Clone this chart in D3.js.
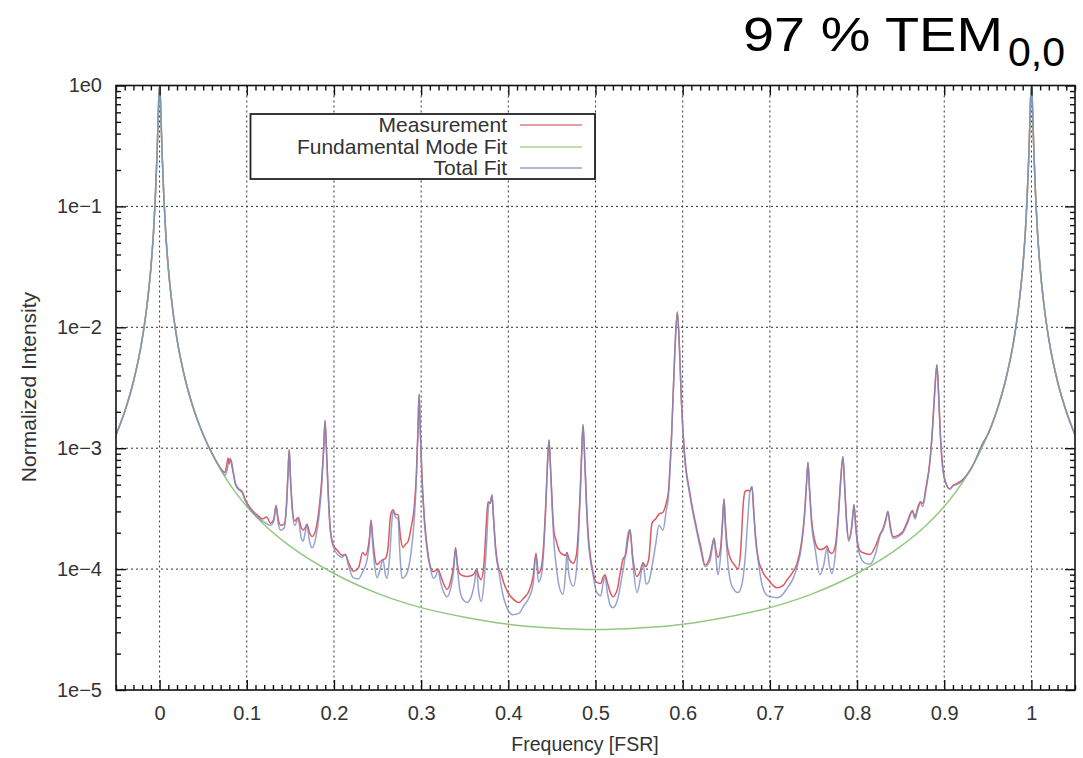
<!DOCTYPE html>
<html>
<head>
<meta charset="utf-8">
<script src="https://cdn.jsdelivr.net/npm/d3@7"></script>
<style>
  body { margin: 0; background: #fff; }
  text { font-family: "Liberation Sans", Arial, sans-serif; }
  .grid line { stroke: #333; stroke-width: 1; stroke-dasharray: 2,3; }
  .tick text { fill: #333; font-size: 20px; }
  .tick line { stroke: #111; stroke-width: 1.4; }
</style>
</head>
<body>
<svg id="chart" width="1083" height="758"></svg>
<script>
// Axis ticks
const xMajor = [0, 0.1, 0.2, 0.3, 0.4, 0.5, 0.6, 0.7, 0.8, 0.9, 1];
const xTickLabels = ['0', '0.1', '0.2', '0.3', '0.4', '0.5', '0.6', '0.7', '0.8', '0.9', '1'];
const yDecades = [1e-5, 1e-4, 1e-3, 1e-2, 1e-1, 1e0];
const yTickLabels = ['1e\u22125', '1e\u22124', '1e\u22123', '1e\u22122', '1e\u22121', '1e0'];

const seriesNames = ['Measurement', 'Fundamental Mode Fit', 'Total Fit'];

// [frequency (FSR), normalized intensity]
const peakLeft = [
  [-0.05, 1.29e-3], [-0.04, 2.01e-3], [-0.03, 3.56e-3], [-0.02, 7.96e-3], [-0.015, 1.41e-2],
  [-0.01, 3.1e-2], [-0.007, 6.1e-2], [-0.005, 0.114], [-0.003, 0.26], [-0.002, 0.44],
  [-0.001, 0.76], [0, 1], [0.001, 0.76], [0.002, 0.44], [0.003, 0.26], [0.005, 0.114],
  [0.007, 6.1e-2], [0.01, 3.1e-2], [0.015, 1.41e-2], [0.02, 7.96e-3], [0.03, 3.56e-3],
  [0.04, 2.01e-3], [0.05, 1.3e-3], [0.06, 9.1e-4], [0.07, 6.8e-4]
];

const peakRight = [
  [0.932, 7.0e-4], [0.9375, 8.5e-4], [0.943, 1.05e-3], [0.95, 1.3e-3], [0.96, 2.01e-3],
  [0.97, 3.56e-3], [0.98, 7.96e-3], [0.985, 1.41e-2], [0.99, 3.1e-2], [0.993, 6.1e-2],
  [0.995, 0.114], [0.997, 0.26], [0.998, 0.44], [0.999, 0.76], [1, 1], [1.001, 0.76],
  [1.002, 0.44], [1.003, 0.26], [1.005, 0.114], [1.007, 6.1e-2], [1.01, 3.1e-2],
  [1.015, 1.41e-2], [1.02, 7.96e-3], [1.03, 3.56e-3], [1.04, 2.01e-3], [1.05, 1.29e-3]
];

const measurementMid = [
  [0.075, 6.3e-4], [0.0775, 7.6e-4], [0.0786, 8.3e-4], [0.0798, 7.4e-4], [0.081, 8.2e-4],
  [0.0835, 6.8e-4], [0.087, 5.1e-4], [0.091, 4.6e-4], [0.0946, 4.4e-4], [0.098, 3.8e-4],
  [0.104, 3.2e-4], [0.112, 2.8e-4], [0.118, 2.6e-4], [0.123, 2.7e-4], [0.127, 2.4e-4],
  [0.131, 2.6e-4], [0.1336, 3.35e-4], [0.136, 2.6e-4], [0.139, 2.3e-4], [0.143, 2.35e-4],
  [0.1455, 3.4e-4], [0.1472, 6.0e-4], [0.1487, 9.7e-4], [0.150, 6.0e-4], [0.152, 3.4e-4],
  [0.155, 2.5e-4], [0.159, 2.67e-4], [0.1625, 2.2e-4], [0.1646, 2.1e-4], [0.167, 2.2e-4],
  [0.169, 2.35e-4], [0.172, 2.0e-4], [0.175, 1.86e-4], [0.179, 2.1e-4], [0.183, 3.2e-4],
  [0.186, 5.5e-4], [0.1882, 1.0e-3], [0.1898, 1.7e-3], [0.1915, 9.5e-4], [0.1935, 4.2e-4],
  [0.1955, 2.3e-4], [0.199, 1.6e-4], [0.205, 1.4e-4], [0.209, 1.3e-4], [0.213, 1.32e-4],
  [0.217, 1.12e-4], [0.222, 9.6e-5], [0.228, 1.02e-4], [0.233, 1.37e-4], [0.236, 1.3e-4],
  [0.2405, 1.75e-4], [0.2425, 2.55e-4], [0.2445, 1.8e-4], [0.2465, 1.3e-4], [0.2494, 1.09e-4],
  [0.253, 1.15e-4], [0.2563, 1.2e-4], [0.259, 1.22e-4], [0.262, 1.5e-4], [0.265, 2.8e-4],
  [0.2678, 3.1e-4], [0.2705, 2.85e-4], [0.2735, 2.82e-4], [0.2765, 1.8e-4], [0.279, 1.51e-4],
  [0.282, 1.6e-4], [0.285, 1.69e-4], [0.289, 2.3e-4], [0.292, 3.2e-4], [0.2945, 6.0e-4],
  [0.2963, 1.4e-3], [0.2976, 2.8e-3], [0.299, 1.45e-3], [0.301, 5.8e-4], [0.304, 2.5e-4],
  [0.307, 1.5e-4], [0.3102, 1.08e-4], [0.314, 9.5e-5], [0.317, 9.8e-5], [0.3194, 1.0e-4],
  [0.322, 9.0e-5], [0.326, 7.5e-5], [0.3297, 6.8e-5], [0.334, 8.0e-5], [0.3375, 1.1e-4],
  [0.3395, 1.5e-4], [0.3415, 1.12e-4], [0.344, 9.2e-5], [0.348, 8.8e-5], [0.3526, 8.7e-5],
  [0.357, 8.8e-5], [0.361, 9.2e-5], [0.3635, 1.0e-4], [0.366, 8.8e-5], [0.3687, 8.2e-5],
  [0.372, 1.1e-4], [0.3745, 2.2e-4], [0.3767, 3.6e-4], [0.3795, 3.5e-4], [0.3813, 4.1e-4],
  [0.383, 2.7e-4], [0.3855, 1.5e-4], [0.3893, 1.0e-4], [0.391, 9.5e-5], [0.3945, 7.8e-5],
  [0.3996, 6.4e-5], [0.405, 5.7e-5], [0.4122, 5.3e-5], [0.418, 5.8e-5], [0.4237, 6.6e-5],
  [0.4285, 8.8e-5], [0.4317, 1.35e-4], [0.4345, 9.2e-5], [0.438, 1.05e-4], [0.441, 1.8e-4],
  [0.443, 3.5e-4], [0.4448, 7.2e-4], [0.4467, 1.17e-3], [0.4485, 6.8e-4], [0.4505, 3.3e-4],
  [0.4525, 2.0e-4], [0.4547, 1.75e-4], [0.4587, 1.4e-4], [0.4628, 1.32e-4], [0.4655, 1.3e-4],
  [0.4673, 1.37e-4], [0.4695, 1.22e-4], [0.4745, 1.12e-4], [0.478, 1.3e-4], [0.4805, 2.2e-4],
  [0.4825, 4.5e-4], [0.4842, 9.5e-4], [0.4857, 1.56e-3], [0.4875, 8.8e-4], [0.4895, 3.8e-4],
  [0.4915, 2.0e-4], [0.494, 1.3e-4], [0.4971, 9.5e-5], [0.501, 7.8e-5], [0.506, 7.6e-5],
  [0.5085, 8.5e-5], [0.5109, 9.0e-5], [0.5135, 7.8e-5], [0.517, 6.4e-5], [0.52, 5.9e-5],
  [0.525, 6.8e-5], [0.528, 9.0e-5], [0.5315, 1.2e-4], [0.5345, 1.3e-4], [0.5375, 1.8e-4],
  [0.5396, 2.12e-4], [0.5425, 1.3e-4], [0.5476, 8.7e-5], [0.551, 9.5e-5], [0.5545, 1.13e-4],
  [0.5575, 1.05e-4], [0.561, 1.2e-4], [0.5648, 2.4e-4], [0.569, 2.6e-4], [0.5728, 2.85e-4],
  [0.5774, 2.95e-4], [0.581, 3.5e-4], [0.5835, 4.3e-4], [0.5874, 1.35e-3], [0.5911, 6.6e-3],
  [0.5939, 1.34e-2], [0.5962, 7.0e-3], [0.5985, 2.5e-3], [0.6022, 8.8e-4], [0.6079, 4.4e-4],
  [0.6164, 2.1e-4], [0.621, 1.5e-4], [0.6256, 1.08e-4], [0.631, 1.25e-4], [0.6345, 1.65e-4],
  [0.636, 1.8e-4], [0.638, 1.45e-4], [0.6405, 1.25e-4], [0.6435, 1.5e-4], [0.6458, 2.6e-4],
  [0.6474, 3.8e-4], [0.649, 2.4e-4], [0.6515, 1.5e-4], [0.6566, 1.15e-4], [0.6595, 1.08e-4],
  [0.6635, 1.0e-4], [0.6665, 1.4e-4], [0.6695, 3.5e-4], [0.6715, 4.4e-4], [0.675, 4.5e-4],
  [0.677, 4.4e-4], [0.6795, 4.8e-4], [0.6815, 3.0e-4], [0.6835, 1.9e-4], [0.6864, 1.25e-4],
  [0.692, 9.4e-5], [0.6979, 8.2e-5], [0.7081, 7.0e-5], [0.715, 7.3e-5], [0.72, 8.2e-5],
  [0.7265, 9.5e-5], [0.731, 1.1e-4], [0.736, 1.6e-4], [0.7395, 2.7e-4], [0.742, 5.1e-4],
  [0.7437, 7.6e-4], [0.7455, 4.6e-4], [0.748, 2.5e-4], [0.7517, 1.7e-4], [0.7545, 1.5e-4],
  [0.7575, 1.45e-4], [0.762, 1.48e-4], [0.7655, 1.55e-4], [0.768, 1.4e-4], [0.7712, 1.35e-4],
  [0.775, 1.55e-4], [0.7785, 2.8e-4], [0.781, 5.2e-4], [0.7838, 8.5e-4], [0.786, 4.6e-4],
  [0.788, 2.5e-4], [0.7905, 1.75e-4], [0.794, 2.3e-4], [0.7965, 3.4e-4], [0.7985, 2.3e-4],
  [0.801, 1.6e-4], [0.8033, 1.42e-4], [0.809, 1.35e-4], [0.8148, 1.32e-4], [0.822, 1.6e-4],
  [0.8265, 1.95e-4], [0.8297, 2.15e-4], [0.833, 2.6e-4], [0.8354, 3.0e-4], [0.838, 2.3e-4],
  [0.8412, 1.85e-4], [0.847, 1.9e-4], [0.8526, 2.05e-4], [0.858, 2.5e-4], [0.8635, 3.05e-4],
  [0.8665, 2.7e-4], [0.8695, 3.2e-4], [0.8727, 3.6e-4], [0.8755, 3.5e-4], [0.879, 4.7e-4],
  [0.8835, 7.8e-4], [0.8865, 1.45e-3], [0.889, 2.9e-3], [0.8916, 4.9e-3], [0.8935, 2.9e-3],
  [0.8955, 1.35e-3], [0.8985, 6.8e-4], [0.9025, 5.0e-4], [0.9065, 4.6e-4], [0.91, 4.9e-4],
  [0.9145, 5.1e-4], [0.92, 5.4e-4], [0.926, 6.0e-4]
];

const totalFitMid = [
  [0.075, 6.0e-4], [0.0775, 6.6e-4], [0.0795, 7.8e-4], [0.082, 8.0e-4], [0.0845, 6.4e-4],
  [0.087, 5.0e-4], [0.091, 4.5e-4], [0.0946, 4.3e-4], [0.098, 3.7e-4], [0.104, 3.1e-4],
  [0.112, 2.7e-4], [0.12, 2.45e-4], [0.127, 2.3e-4], [0.131, 2.5e-4], [0.1336, 3.3e-4],
  [0.136, 2.4e-4], [0.139, 2.1e-4], [0.143, 2.2e-4], [0.1455, 3.2e-4], [0.1472, 5.8e-4],
  [0.1487, 9.7e-4], [0.150, 5.8e-4], [0.152, 3.2e-4], [0.155, 2.3e-4], [0.159, 2.6e-4],
  [0.1625, 1.8e-4], [0.1646, 1.7e-4], [0.167, 2.0e-4], [0.169, 2.3e-4], [0.172, 1.7e-4],
  [0.175, 1.5e-4], [0.179, 1.8e-4], [0.183, 2.8e-4], [0.186, 5.0e-4], [0.1882, 9.5e-4],
  [0.1898, 1.66e-3], [0.1915, 9.0e-4], [0.1935, 4.0e-4], [0.1955, 2.2e-4], [0.199, 1.55e-4],
  [0.205, 1.3e-4], [0.209, 1.25e-4], [0.213, 1.32e-4], [0.217, 1.05e-4], [0.222, 8.5e-5],
  [0.228, 8.3e-5], [0.233, 9.5e-5], [0.238, 1.2e-4], [0.2405, 1.6e-4], [0.2425, 2.5e-4],
  [0.2445, 1.6e-4], [0.2465, 1.1e-4], [0.2494, 8.5e-5], [0.253, 1.0e-4], [0.2563, 1.2e-4],
  [0.259, 9.0e-5], [0.261, 8.4e-5], [0.264, 1.3e-4], [0.2665, 2.5e-4], [0.2678, 3.05e-4],
  [0.2705, 2.7e-4], [0.2735, 2.6e-4], [0.2755, 1.4e-4], [0.278, 8.4e-5], [0.283, 9.0e-5],
  [0.288, 1.3e-4], [0.292, 2.5e-4], [0.2945, 5.5e-4], [0.2963, 1.3e-3], [0.2976, 2.77e-3],
  [0.299, 1.4e-3], [0.301, 5.5e-4], [0.304, 2.3e-4], [0.307, 1.4e-4], [0.3102, 1.05e-4],
  [0.314, 8.4e-5], [0.317, 8.8e-5], [0.3194, 9.9e-5], [0.322, 8.0e-5], [0.326, 6.4e-5],
  [0.3297, 5.9e-5], [0.334, 7.0e-5], [0.3375, 1.0e-4], [0.3395, 1.48e-4], [0.3415, 1.05e-4],
  [0.344, 7.0e-5], [0.348, 5.6e-5], [0.3526, 5.3e-5], [0.357, 5.8e-5], [0.361, 7.5e-5],
  [0.3635, 9.9e-5], [0.366, 6.5e-5], [0.3687, 5.4e-5], [0.372, 7.5e-5], [0.375, 1.6e-4],
  [0.3775, 3.4e-4], [0.3795, 3.6e-4], [0.3813, 4.1e-4], [0.383, 2.6e-4], [0.3855, 1.4e-4],
  [0.3893, 9.5e-5], [0.393, 6.5e-5], [0.3996, 4.6e-5], [0.405, 4.2e-5], [0.412, 4.3e-5],
  [0.418, 5.0e-5], [0.4237, 5.8e-5], [0.4285, 7.5e-5], [0.4317, 1.32e-4], [0.4345, 7.8e-5],
  [0.438, 9.0e-5], [0.441, 1.6e-4], [0.443, 3.2e-4], [0.4448, 7.0e-4], [0.4467, 1.17e-3],
  [0.4485, 6.5e-4], [0.4505, 3.0e-4], [0.4525, 1.6e-4], [0.4547, 1.1e-4], [0.4587, 7.0e-5],
  [0.4628, 6.2e-5], [0.4655, 9.0e-5], [0.4673, 1.37e-4], [0.4695, 9.0e-5], [0.4745, 7.2e-5],
  [0.478, 9.5e-5], [0.4805, 1.8e-4], [0.4825, 4.0e-4], [0.4842, 9.0e-4], [0.4857, 1.56e-3],
  [0.4875, 8.5e-4], [0.4895, 3.5e-4], [0.4915, 1.8e-4], [0.494, 1.2e-4], [0.4971, 9.0e-5],
  [0.501, 6.5e-5], [0.506, 6.0e-5], [0.5085, 7.5e-5], [0.5109, 8.7e-5], [0.5135, 6.5e-5],
  [0.517, 5.0e-5], [0.52, 4.8e-5], [0.525, 5.5e-5], [0.5295, 8.0e-5], [0.5335, 1.2e-4],
  [0.5375, 2.0e-4], [0.5396, 2.12e-4], [0.5425, 1.2e-4], [0.5476, 6.4e-5], [0.551, 8.0e-5],
  [0.5545, 1.13e-4], [0.558, 7.5e-5], [0.561, 7.8e-5], [0.5648, 1.05e-4], [0.569, 1.6e-4],
  [0.5728, 2.3e-4], [0.5774, 2.1e-4], [0.581, 3.0e-4], [0.5835, 3.9e-4], [0.5874, 1.3e-3],
  [0.5911, 6.6e-3], [0.5939, 1.34e-2], [0.5962, 7.0e-3], [0.5985, 2.5e-3], [0.6022, 8.5e-4],
  [0.6079, 4.2e-4], [0.6164, 2.0e-4], [0.621, 1.4e-4], [0.6256, 1.05e-4], [0.631, 1.15e-4],
  [0.6345, 1.6e-4], [0.636, 1.8e-4], [0.638, 1.3e-4], [0.6405, 9.0e-5], [0.6435, 1.3e-4],
  [0.6458, 2.4e-4], [0.6474, 3.8e-4], [0.649, 2.2e-4], [0.6515, 1.2e-4], [0.6566, 7.2e-5],
  [0.6635, 6.4e-5], [0.668, 7.5e-5], [0.6715, 1.2e-4], [0.675, 2.8e-4], [0.677, 4.3e-4],
  [0.6795, 4.8e-4], [0.6815, 3.0e-4], [0.6835, 1.8e-4], [0.6864, 1.2e-4], [0.692, 7.0e-5],
  [0.6979, 6.0e-5], [0.7081, 5.8e-5], [0.715, 6.2e-5], [0.72, 7.0e-5], [0.7265, 8.3e-5],
  [0.731, 1.03e-4], [0.736, 1.5e-4], [0.7395, 2.6e-4], [0.742, 5.0e-4], [0.7437, 7.6e-4],
  [0.7455, 4.5e-4], [0.748, 2.3e-4], [0.7517, 1.5e-4], [0.7575, 9.0e-5], [0.762, 1.1e-4],
  [0.7655, 1.5e-4], [0.768, 1.1e-4], [0.7712, 9.2e-5], [0.775, 1.3e-4], [0.7785, 2.6e-4],
  [0.781, 5.0e-4], [0.7838, 8.5e-4], [0.786, 4.5e-4], [0.788, 2.4e-4], [0.7905, 1.7e-4],
  [0.794, 2.2e-4], [0.7965, 3.4e-4], [0.7985, 2.2e-4], [0.801, 1.5e-4], [0.8033, 1.3e-4],
  [0.809, 1.12e-4], [0.8148, 1.1e-4], [0.822, 1.4e-4], [0.8265, 1.9e-4], [0.8297, 2.1e-4],
  [0.833, 2.5e-4], [0.8354, 3.0e-4], [0.838, 2.2e-4], [0.8412, 1.8e-4], [0.847, 1.85e-4],
  [0.8526, 2.0e-4], [0.858, 2.4e-4], [0.8635, 3.0e-4], [0.8665, 2.6e-4], [0.8695, 3.1e-4],
  [0.8727, 3.5e-4], [0.8755, 3.3e-4], [0.879, 4.5e-4], [0.8835, 7.5e-4], [0.8865, 1.4e-3],
  [0.889, 2.8e-3], [0.8916, 4.9e-3], [0.8935, 2.8e-3], [0.8955, 1.3e-3], [0.8985, 6.5e-4],
  [0.9025, 5.0e-4], [0.9065, 4.6e-4], [0.91, 4.9e-4], [0.9145, 5.0e-4], [0.92, 5.3e-4],
  [0.926, 6.0e-4]
];

const fundamental = [
  [-0.05, 1.29e-3], [-0.04, 2.01e-3], [-0.03, 3.56e-3], [-0.02, 7.96e-3], [-0.015, 1.41e-2],
  [-0.01, 3.1e-2], [-0.007, 6.1e-2], [-0.005, 0.114], [-0.003, 0.26], [-0.002, 0.44],
  [-0.001, 0.76], [0, 1], [0.001, 0.76], [0.002, 0.44], [0.003, 0.26], [0.005, 0.114],
  [0.007, 6.1e-2], [0.01, 3.1e-2], [0.015, 1.41e-2], [0.02, 7.96e-3], [0.03, 3.56e-3],
  [0.04, 2.01e-3], [0.05, 1.29e-3], [0.06, 9.0e-4], [0.07, 6.65e-4], [0.08, 5.1e-4],
  [0.1, 3.3e-4], [0.12, 2.33e-4], [0.15, 1.54e-4], [0.2, 9.2e-5], [0.25, 6.3e-5],
  [0.3, 4.8e-5], [0.35, 4.0e-5], [0.4, 3.5e-5], [0.45, 3.25e-5], [0.5, 3.16e-5],
  [0.55, 3.25e-5], [0.6, 3.5e-5], [0.65, 4.0e-5], [0.7, 4.8e-5], [0.75, 6.3e-5],
  [0.8, 9.2e-5], [0.85, 1.54e-4], [0.88, 2.33e-4], [0.9, 3.3e-4], [0.92, 5.1e-4],
  [0.93, 6.65e-4], [0.94, 9.0e-4], [0.95, 1.29e-3], [0.96, 2.01e-3], [0.97, 3.56e-3],
  [0.98, 7.96e-3], [0.985, 1.41e-2], [0.99, 3.1e-2], [0.993, 6.1e-2], [0.995, 0.114],
  [0.997, 0.26], [0.998, 0.44], [0.999, 0.76], [1, 1], [1.001, 0.76], [1.002, 0.44],
  [1.003, 0.26], [1.005, 0.114], [1.007, 6.1e-2], [1.01, 3.1e-2], [1.015, 1.41e-2],
  [1.02, 7.96e-3], [1.03, 3.56e-3], [1.04, 2.01e-3], [1.05, 1.29e-3]
];

const measurement = peakLeft.concat(measurementMid, peakRight);
const totalFit = peakLeft.concat(totalFitMid, peakRight);

const colors = { meas: '#de5a5e', fund: '#93c87f', total: '#7a8cc2' };

// Plot box
const W = 1083, H = 758;
const plot = { left: 116, right: 1075, top: 85.5, bottom: 690 };

const svg = d3.select('#chart');
svg.append('rect').attr('width', W).attr('height', H).attr('fill', '#fff');

const x = d3.scaleLinear().domain([-0.05, 1.05]).range([plot.left, plot.right]);
const y = d3.scaleLog().domain([1e-5, 1]).range([plot.bottom, plot.top]);

// Grid
const grid = svg.append('g').attr('class', 'grid');
grid.selectAll('.gx').data(xMajor).enter().append('line')
  .attr('x1', d => x(d)).attr('x2', d => x(d))
  .attr('y1', plot.top).attr('y2', plot.bottom);
grid.selectAll('.gy').data(yDecades.slice(1, -1)).enter().append('line')
  .attr('x1', plot.left).attr('x2', plot.right)
  .attr('y1', d => y(d)).attr('y2', d => y(d));

// Curves
svg.append('clipPath').attr('id', 'clip').append('rect')
  .attr('x', plot.left).attr('y', plot.top)
  .attr('width', plot.right - plot.left).attr('height', plot.bottom - plot.top);

const line = d3.line()
  .x(d => x(d[0]))
  .y(d => y(d[1]))
  .curve(d3.curveMonotoneX);

const curves = svg.append('g').attr('clip-path', 'url(#clip)').attr('fill', 'none');
curves.append('path').datum(measurement).attr('d', line)
  .attr('stroke', colors.meas).attr('stroke-width', 1.5);
curves.append('path').datum(fundamental).attr('d', line)
  .attr('stroke', colors.fund).attr('stroke-width', 1.5);
curves.append('path').datum(totalFit).attr('d', line)
  .attr('stroke', colors.total).attr('stroke-width', 1.5).attr('stroke-opacity', 0.8);

// Minor tick values
const xMinor = d3.range(-5, 106).map(i => i / 100).filter(v => Math.abs(v * 10 - Math.round(v * 10)) > 1e-6);
const yMinor = [];
yDecades.slice(0, -1).forEach(p => { for (let k = 2; k < 10; k++) yMinor.push(k * p); });

// Axes (inward ticks on all four sides)
function addAxis(axis, tx, ty, showLabels) {
  const g = svg.append('g').attr('transform', `translate(${tx},${ty})`).call(axis);
  g.select('.domain').remove();
  if (!showLabels) g.selectAll('text').remove();
  return g;
}

addAxis(d3.axisBottom(x).tickValues(xMajor).tickSize(-10).tickSizeOuter(0).tickPadding(16)
  .tickFormat((d, i) => xTickLabels[i]), 0, plot.bottom, true);
addAxis(d3.axisBottom(x).tickValues(xMinor).tickSize(-5).tickSizeOuter(0), 0, plot.bottom, false);
addAxis(d3.axisTop(x).tickValues(xMajor).tickSize(-10).tickSizeOuter(0), 0, plot.top, false);
addAxis(d3.axisTop(x).tickValues(xMinor).tickSize(-5).tickSizeOuter(0), 0, plot.top, false);

addAxis(d3.axisLeft(y).tickValues(yDecades).tickSize(-10).tickSizeOuter(0).tickPadding(14)
  .tickFormat((d, i) => yTickLabels[i]), plot.left, 0, true);
addAxis(d3.axisLeft(y).tickValues(yMinor).tickSize(-5).tickSizeOuter(0), plot.left, 0, false);
addAxis(d3.axisRight(y).tickValues(yDecades).tickSize(-10).tickSizeOuter(0), plot.right, 0, false);
addAxis(d3.axisRight(y).tickValues(yMinor).tickSize(-5).tickSizeOuter(0), plot.right, 0, false);

svg.selectAll('.tick text').attr('font-family', null);

// Frame
svg.append('rect')
  .attr('x', plot.left).attr('y', plot.top)
  .attr('width', plot.right - plot.left).attr('height', plot.bottom - plot.top)
  .attr('fill', 'none').attr('stroke', '#111').attr('stroke-width', 1.6);

// Axis titles
svg.append('text')
  .attr('x', 585).attr('y', 751)
  .attr('text-anchor', 'middle').attr('font-size', 19.5).attr('fill', '#333')
  .text('Frequency [FSR]');
svg.append('text')
  .attr('transform', 'translate(36,387) rotate(-90)')
  .attr('text-anchor', 'middle').attr('font-size', 21).attr('fill', '#333')
  .text('Normalized Intensity');

// Legend
const legend = svg.append('g');
legend.append('rect')
  .attr('x', 250.5).attr('y', 114).attr('width', 344.5).attr('height', 65)
  .attr('fill', '#fff').attr('stroke', '#222').attr('stroke-width', 1.8);
const legendColors = [colors.meas, colors.fund, colors.total];
const legendY = [125, 147, 168];
seriesNames.forEach((name, i) => {
  legend.append('text')
    .attr('x', 507).attr('y', legendY[i] + 7)
    .attr('text-anchor', 'end').attr('font-size', 21).attr('fill', '#333')
    .text(name);
  legend.append('line')
    .attr('x1', 520).attr('x2', 582)
    .attr('y1', legendY[i]).attr('y2', legendY[i])
    .attr('stroke', legendColors[i]).attr('stroke-width', 1.4).attr('stroke-opacity', 0.8);
});

// Title
svg.append('text')
  .attr('x', 743).attr('y', 51)
  .attr('font-size', 49).attr('fill', '#000')
  .attr('textLength', 260).attr('lengthAdjust', 'spacingAndGlyphs')
  .text('97 % TEM');
svg.append('text')
  .attr('x', 1008).attr('y', 66)
  .attr('font-size', 40).attr('fill', '#000')
  .attr('textLength', 57).attr('lengthAdjust', 'spacingAndGlyphs')
  .text('0,0');
</script>
</body>
</html>
